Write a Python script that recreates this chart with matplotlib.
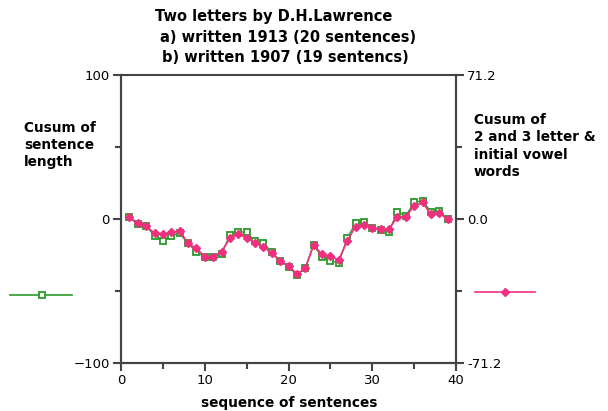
import numpy as np
import matplotlib
matplotlib.use("Agg")
import matplotlib.pyplot as plt
from matplotlib.lines import Line2D

# data
seq = list(range(1, 40))
cusum_len = [1.2, -3.5, -4.9, -11.8, -15.3, -11.8, -10.0, -16.9, -22.7, -26.6,
             -26.6, -24.5, -11.0, -8.8, -9.3, -15.3, -16.5, -23.0, -29.0, -33.0,
             -39.0, -34.0, -18.0, -26.6, -29.0, -30.5, -13.4, -3.0, -1.9, -6.5,
             -7.6, -8.8, 5.1, 2.1, 11.6, 12.7, 5.1, 5.6, 0.0]
cusum_words = [0.8, -2.1, -3.5, -7.1, -7.4, -6.6, -5.8, -12.0, -14.5, -18.6,
               -18.6, -16.2, -9.5, -7.6, -9.2, -11.7, -13.7, -17.0, -20.8, -23.2,
               -27.2, -24.4, -12.9, -17.5, -18.3, -20.3, -10.9, -3.8, -3.0, -4.6,
               -5.1, -5.0, 1.1, 1.1, 6.6, 8.2, 2.3, 2.8, 0.0]

green = "#2a9a2a"
pink = "#f0307f"

plt.rcParams['font.family'] = 'DejaVu Sans'
plt.rcParams['xtick.direction'] = 'out'
plt.rcParams['ytick.direction'] = 'out'

fig = plt.figure(figsize=(6.08, 4.11), dpi=100)
ax = fig.add_axes([121/608, 48/411, 335/608, 288/411])
ax2 = ax.twinx()

ax.plot(seq, cusum_len, color=green, linewidth=1.0, marker='s', markersize=4.8,
        markerfacecolor='white', markeredgecolor=green, markeredgewidth=1.3, zorder=2)
ax2.plot(seq, cusum_words, color=pink, linewidth=1.2, marker='D', markersize=4.2,
         markerfacecolor=pink, markeredgecolor=pink, zorder=3)

ax.set_xlim(0, 40)
ax.set_ylim(-100, 100)
ax2.set_ylim(-71.2, 71.2)

ax.set_xticks([0, 10, 20, 30, 40])
ax.set_xticks([5, 15, 25, 35], minor=True)
ax.set_yticks([-100, 0, 100])
ax.set_yticks([-50, 50], minor=True)
ax2.set_yticks([-71.2, 0, 71.2])
ax2.set_yticklabels(["-71.2", "0.0", "71.2"])
ax2.set_yticks([-35.6, 35.6], minor=True)

for a in (ax, ax2):
    for s in a.spines.values():
        s.set_linewidth(1.5)
        s.set_color("#444444")
    a.tick_params(which='major', length=6, width=1.5, color="#444444",
                  labelsize=9.5, pad=2)
    a.tick_params(which='minor', length=4, width=1.5, color="#444444")
ax.spines['top'].set_visible(False)
ax2.spines['top'].set_visible(True)

# title and axis captions
fig.text(289/608, 1 - 403/411, "sequence of sentences", fontsize=9.8,
         fontweight='bold', va='center', ha='center')
fig.text(155/608, 1 - 17/411, "Two letters by D.H.Lawrence", fontsize=10.5,
         fontweight='bold', va='center', ha='left')
fig.text(160/608, 1 - 38/411, "a) written 1913 (20 sentences)", fontsize=10.5,
         fontweight='bold', va='center', ha='left')
fig.text(162/608, 1 - 57/411, "b) written 1907 (19 sentencs)", fontsize=10.5,
         fontweight='bold', va='center', ha='left')
fig.text(24/608, 1 - 145/411, "Cusum of\nsentence\nlength", fontsize=9.8,
         fontweight='bold', va='center', ha='left', linespacing=1.3)
fig.text(474/608, 1 - 146/411, "Cusum of\n2 and 3 letter &\ninitial vowel\nwords",
         fontsize=9.8, fontweight='bold', va='center', ha='left', linespacing=1.3)

# legend keys without text
fig.add_artist(Line2D([10/608, 72/608], [1 - 295/411] * 2, color=green, linewidth=1.2))
fig.add_artist(Line2D([42/608], [1 - 295/411], marker='s', markersize=4.5,
                      markerfacecolor='white', markeredgecolor=green, markeredgewidth=1.3))
fig.add_artist(Line2D([475/608, 535/608], [1 - 292/411] * 2, color=pink, linewidth=1.2))
fig.add_artist(Line2D([505/608], [1 - 292/411], marker='D', markersize=4,
                      color=pink))

plt.savefig("out.png", dpi=100)
